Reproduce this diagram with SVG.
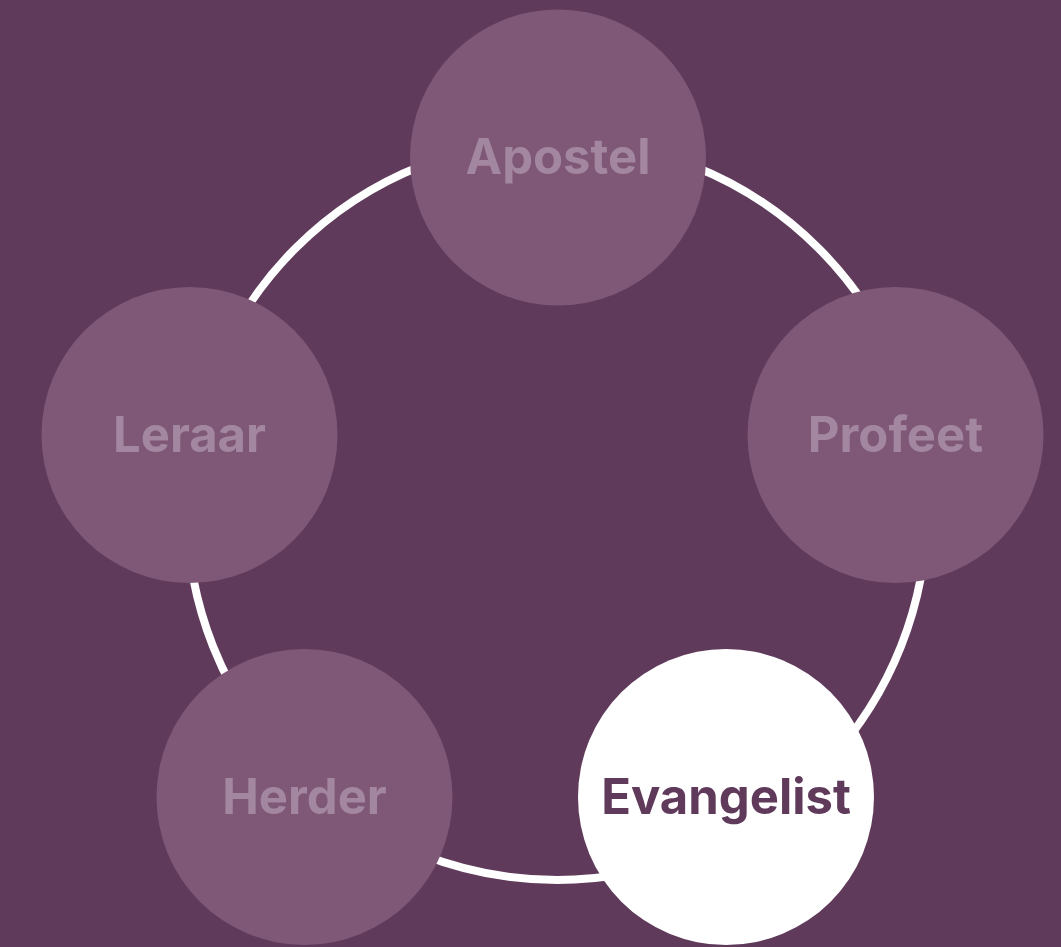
<svg xmlns="http://www.w3.org/2000/svg" width="1061" height="947" viewBox="0 0 1061 947">
<style>
.node{fill:#7e5876}
.lbl{font-family:Inter,"Liberation Sans",sans-serif;font-weight:700;font-size:49px;text-anchor:middle;fill:#a3869f}
.active{fill:#ffffff}
.active-lbl{fill:#5f3a5b}
</style>
<rect width="1061" height="947" fill="#5f3a5b"/>
<g id="connectors">
<circle cx="557" cy="510" r="370" fill="none" stroke="#ffffff" stroke-width="8"/>
</g>
<g id="node-apostel"><circle class="node" cx="558" cy="157.5" r="148"/><text class="lbl" x="558" y="174">Apostel</text></g>
<g id="node-profeet"><circle class="node" cx="895.5" cy="435" r="148"/><text class="lbl" x="895.5" y="452">Profeet</text></g>
<g id="node-evangelist"><circle class="active" cx="726" cy="797" r="148"/><text class="lbl active-lbl" x="726" y="814">Evangelist</text></g>
<g id="node-herder"><circle class="node" cx="304.5" cy="797" r="148"/><text class="lbl" x="304.5" y="814">Herder</text></g>
<g id="node-leraar"><circle class="node" cx="189.5" cy="435" r="148"/><text class="lbl" x="189.5" y="452">Leraar</text></g>
</svg>
